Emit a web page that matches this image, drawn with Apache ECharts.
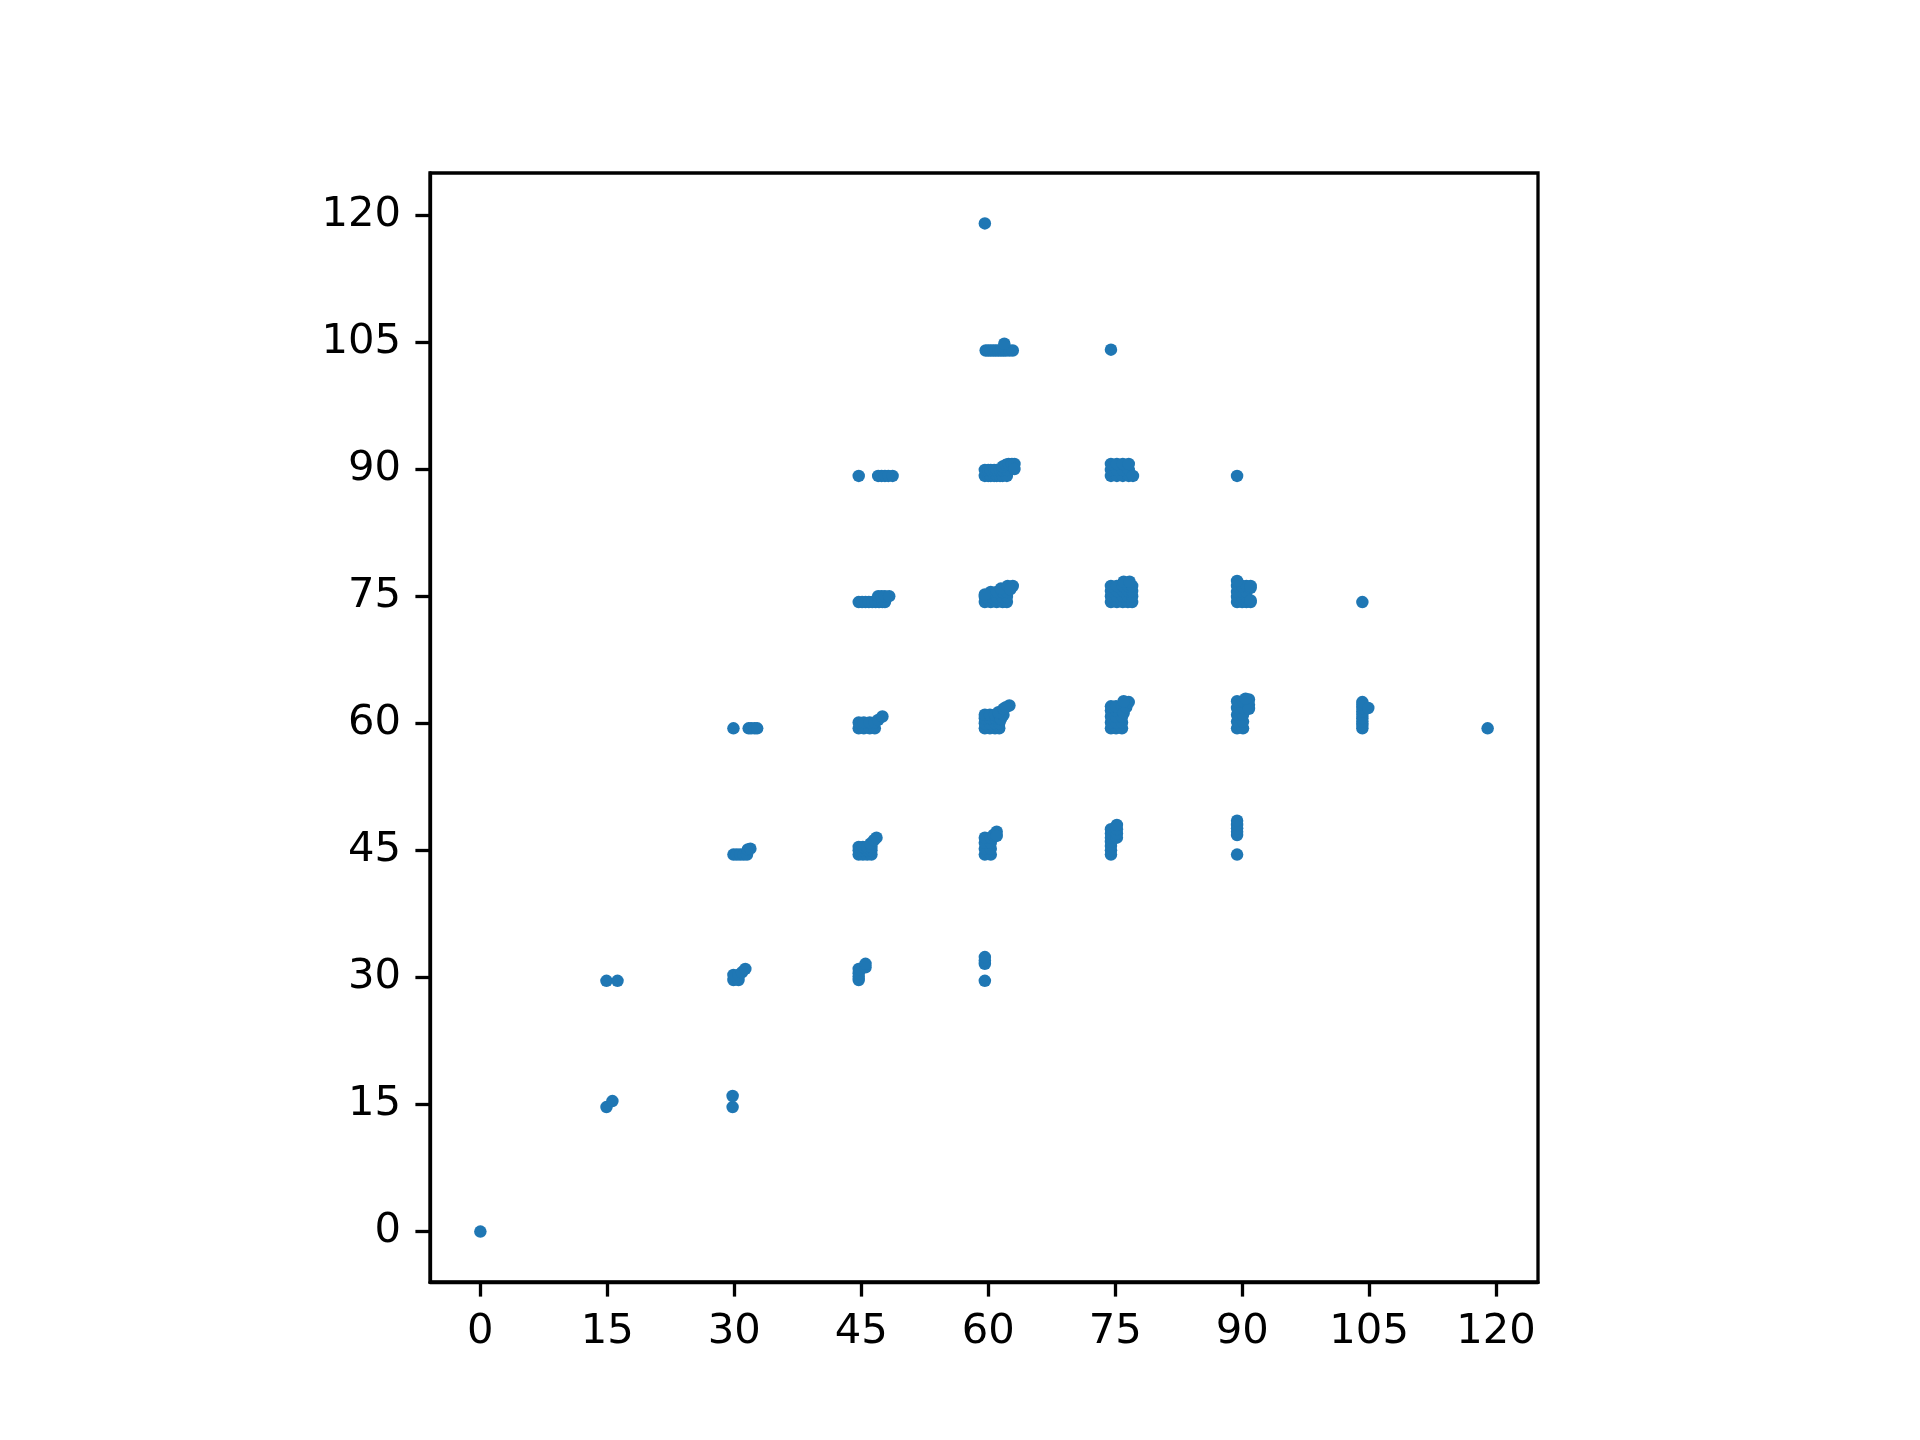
<!DOCTYPE html>
<html>
<head>
<meta charset="utf-8">
<script src="https://cdn.jsdelivr.net/npm/echarts@6/dist/echarts.min.js"></script>
<style>html,body{margin:0;padding:0;background:#fff;}#c{width:1920px;height:1440px;}</style>
</head>
<body>
<div id="c"></div>
<script>
const tickValues = [0, 15, 30, 45, 60, 75, 90, 105, 120];

const row0 = [[0, 0]];
const row15 = [[14.9, 14.7], [15.6, 15.4], [29.8, 14.7], [29.8, 16.0]];
const row30 = [
  [14.9, 29.6], [16.2, 29.6],
  [29.9, 29.7], [30.5, 29.7], [29.9, 30.3], [30.5, 30.3], [30.9, 30.6], [31.3, 31.0],
  [44.7, 29.7], [44.7, 30.1], [44.7, 30.5], [44.7, 31.0], [45.5, 31.2], [45.5, 31.6],
  [59.6, 29.6], [59.6, 31.6], [59.6, 32.0], [59.6, 32.4]
];
const row45 = [
  [29.9, 44.5], [30.3, 44.5], [30.7, 44.5], [31.1, 44.5], [31.5, 44.5], [31.6, 45.1], [31.9, 45.2],
  [44.7, 44.5], [45.2, 44.5], [45.7, 44.5], [46.2, 44.5], [44.7, 45.0], [45.2, 45.0],
  [45.7, 45.0], [46.2, 45.0], [44.7, 45.4], [45.2, 45.4], [45.7, 45.4], [46.2, 45.4],
  [46.1, 45.8], [46.5, 46.2], [46.8, 46.5],
  [59.6, 44.5], [60.3, 44.5], [59.6, 45.2], [60.3, 45.2], [59.6, 45.9], [60.3, 45.9],
  [59.6, 46.5], [60.3, 46.5], [60.6, 46.8], [61.0, 47.2], [61.0, 46.7],
  [74.5, 44.5], [74.5, 45.0], [74.5, 45.5], [74.5, 46.0], [74.5, 46.5], [74.5, 47.0],
  [74.5, 47.5], [75.2, 46.5], [75.2, 47.0], [75.2, 47.5], [75.2, 48.0],
  [89.4, 44.5], [89.4, 46.8], [89.4, 47.2], [89.4, 47.6], [89.4, 48.0], [89.4, 48.5]
];
const row60 = [
  [29.9, 59.4], [31.7, 59.4], [32.0, 59.4], [32.4, 59.4], [32.7, 59.4],
  [44.7, 59.4], [45.3, 59.4], [46.0, 59.4], [46.6, 59.4], [44.7, 60.1], [45.3, 60.1],
  [46.0, 60.1], [46.6, 60.1], [47.0, 60.4], [47.5, 60.8],
  [59.6, 59.4], [60.2, 59.4], [60.8, 59.4], [61.3, 59.4], [59.6, 60.0], [60.2, 60.0],
  [60.8, 60.0], [61.3, 60.0], [59.6, 60.6], [60.2, 60.6], [60.8, 60.6], [61.3, 60.6],
  [59.6, 61.0], [60.2, 61.0], [60.8, 61.0], [61.3, 61.0], [61.5, 60.5], [61.8, 61.0],
  [61.2, 61.3], [61.8, 61.7], [62.5, 62.1], [62.1, 61.9],
  [74.5, 59.4], [75.1, 59.4], [75.8, 59.4], [74.5, 60.1], [75.1, 60.1], [75.8, 60.1],
  [74.5, 60.8], [75.1, 60.8], [75.8, 60.8], [74.5, 61.5], [75.1, 61.5], [75.8, 61.5],
  [74.5, 62.0], [75.1, 62.0], [75.8, 62.0], [76.0, 61.2], [76.3, 61.9], [76.6, 62.5], [76.0, 62.6],
  [89.4, 59.4], [90.1, 59.4], [89.4, 60.2], [90.1, 60.2], [89.4, 61.0], [90.1, 61.0],
  [89.4, 61.8], [90.1, 61.8], [89.4, 62.6], [90.1, 62.6], [90.8, 62.8], [90.8, 62.2],
  [90.8, 61.7], [90.4, 62.9],
  [104.2, 59.4], [104.2, 59.8], [104.2, 60.2], [104.2, 60.6], [104.2, 61.0], [104.2, 61.4],
  [104.2, 61.8], [104.2, 62.2], [104.2, 62.5], [104.9, 61.8],
  [119.0, 59.4]
];
const row75 = [
  [44.7, 74.3], [45.1, 74.3], [45.5, 74.3], [45.9, 74.3], [46.3, 74.3], [46.7, 74.3],
  [47.1, 74.3], [47.5, 74.3], [47.8, 74.3],
  [47.0, 75.0], [47.4, 75.0], [47.8, 75.0], [48.3, 75.0],
  [59.6, 74.3], [60.3, 74.3], [61.0, 74.3], [61.7, 74.3], [62.2, 74.3], [59.6, 74.9],
  [60.3, 74.9], [61.0, 74.9], [61.7, 74.9], [62.2, 74.9], [60.3, 75.5], [61.0, 75.5],
  [61.7, 75.5], [62.2, 75.5], [59.6, 75.2], [61.5, 75.9], [62.3, 76.2], [62.9, 76.2], [62.6, 75.8],
  [74.5, 74.3], [75.2, 74.3], [75.9, 74.3], [76.5, 74.3], [77.0, 74.3],
  [74.5, 75.0], [75.2, 75.0], [75.9, 75.0], [76.5, 75.0], [77.0, 75.0],
  [74.5, 75.6], [75.2, 75.6], [75.9, 75.6], [76.5, 75.6], [77.0, 75.6],
  [74.5, 76.2], [75.2, 76.2], [75.9, 76.2], [76.5, 76.2], [77.0, 76.2],
  [76.0, 76.7], [76.7, 76.7],
  [89.4, 74.3], [90.0, 74.3], [90.5, 74.3], [89.4, 74.9], [90.0, 74.9], [90.5, 74.9],
  [89.4, 75.5], [90.0, 75.5], [90.5, 75.5], [89.4, 76.2], [90.0, 76.2], [90.5, 76.2],
  [91.0, 74.3], [91.0, 74.5], [91.0, 76.0], [91.0, 76.2], [89.4, 76.8],
  [104.2, 74.3]
];
const row90 = [
  [44.7, 89.2], [47.0, 89.2], [47.4, 89.2], [47.8, 89.2], [48.2, 89.2], [48.7, 89.2],
  [59.6, 89.2], [60.0, 89.2], [60.3, 89.2], [60.7, 89.2], [61.0, 89.2], [61.4, 89.2],
  [61.7, 89.2], [62.2, 89.2],
  [59.6, 89.9], [60.0, 89.9], [60.3, 89.9], [60.7, 89.9], [61.0, 89.9], [61.4, 89.9],
  [61.7, 89.9], [62.2, 89.9],
  [61.7, 90.3], [62.1, 90.5], [62.4, 90.6], [62.8, 90.6], [63.1, 90.6], [63.1, 90.0],
  [74.5, 89.2], [75.2, 89.2], [75.9, 89.2], [76.6, 89.2],
  [74.5, 89.9], [75.2, 89.9], [75.9, 89.9], [76.6, 89.9],
  [74.5, 90.6], [75.2, 90.6], [75.9, 90.6], [76.6, 90.6], [77.1, 89.2],
  [89.4, 89.2]
];
const row105 = [
  [59.7, 104.0], [60.0, 104.0], [60.3, 104.0], [60.6, 104.0], [60.9, 104.0], [61.2, 104.0],
  [61.5, 104.0], [61.8, 104.0], [62.1, 104.0], [62.5, 104.0], [62.9, 104.0],
  [61.9, 104.8], [74.5, 104.1]
];
const row120 = [[59.6, 119.0]];

const allPoints = [].concat(row0, row15, row30, row45, row60, row75, row90, row105, row120);

const FONT = 'DejaVu Sans';
function makeAxis() {
  return {
    type: 'value',
    min: -5.95,
    max: 124.95,
    splitLine: { show: false },
    axisLine: { show: true, onZero: false, lineStyle: { color: '#000', width: 3.3 } },
    axisTick: { show: true, customValues: tickValues, length: 14.6, inside: false,
                lineStyle: { color: '#000', width: 3.3 } },
    axisLabel: { show: true, customValues: tickValues, margin: 29, color: '#000',
                 fontSize: 41.7, fontFamily: FONT }
  };
}

const chart = echarts.init(document.getElementById('c'), null, { renderer: 'canvas' });
chart.setOption({
  animation: false,
  backgroundColor: '#fff',
  grid: { left: 430, right: 382, top: 173, bottom: 158, show: true,
          borderColor: '#000', borderWidth: 3.3, backgroundColor: 'transparent' },
  xAxis: makeAxis(),
  yAxis: makeAxis(),
  series: [{
    type: 'scatter',
    data: allPoints,
    symbol: 'circle',
    symbolSize: 12.5,
    itemStyle: { color: '#1f77b4', opacity: 1 }
  }]
});
</script>
</body>
</html>
